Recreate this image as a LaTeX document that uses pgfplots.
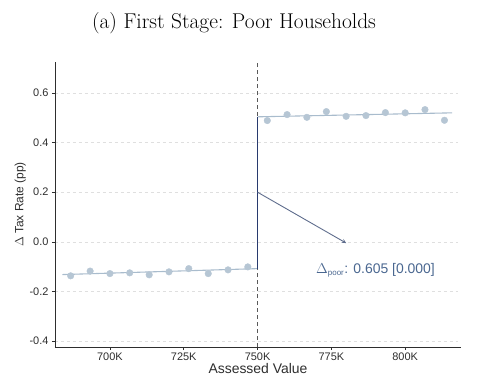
\documentclass[border=0pt]{standalone}
\usepackage{fontspec}
\usepackage{pgfplots}
\pgfplotsset{compat=1.18}
\newfontfamily\arial{Liberation Sans}
\definecolor{pts}{HTML}{B6C6D4}
\definecolor{fitc}{HTML}{A9BCCD}
\definecolor{navy}{HTML}{283A6E}
\definecolor{arrowc}{HTML}{5E6C8C}
\definecolor{annc}{HTML}{4A6790}
\definecolor{axc}{HTML}{2E2E2E}
\begin{document}
\begin{tikzpicture}
\useasboundingbox (0bp,0bp) rectangle (477bp,-391bp);
\node[anchor=base, font=\fontsize{21.5}{24}\selectfont] at (234bp,-28bp) {(a) First Stage: Poor Households};
\begin{axis}[
  at={(55bp,-347bp)}, anchor=south west,
  scale only axis, width=406bp, height=285bp,
  xmin=681.4, xmax=818.9, ymin=-0.424, ymax=0.725,
  axis x line*=bottom, axis y line*=left,
  axis line style={axc, line width=0.8pt, -},
  xtick={700,725,750,775,800},
  xticklabels={700K,725K,750K,775K,800K},
  ytick={-0.4,-0.2,0,0.2,0.4,0.6},
  yticklabels={-0.4,-0.2,0.0,0.2,0.4,0.6},
  tick style={axc, line width=0.6pt},
  tick align=outside, major tick length=3bp,
  ticklabel style={font=\arial\fontsize{11}{12}\selectfont, text=axc},
  xticklabel style={yshift=1bp},
  ymajorgrids, grid style={dashed, gray!25, line width=0.6pt},
  xlabel={Assessed Value},
  xlabel style={font=\arial\fontsize{14}{16}\selectfont, text=axc, yshift=4bp},
  ylabel={$\Delta$ Tax Rate (pp)},
  ylabel style={font=\arial\fontsize{12}{13}\selectfont, text=axc, yshift=-3bp},
  clip=false,
]
% cutoff dashed line
\addplot[gray!70!black, dashed, line width=0.8pt, dash pattern=on 4bp off 3bp] coordinates {(750,-0.424) (750,0.725)};
% binned means
\addplot[only marks, mark=*, mark size=3.3bp, pts, mark options={draw=pts, fill=pts}] coordinates {
(686.7,-0.137) (693.3,-0.118) (700,-0.128) (706.7,-0.125) (713.3,-0.133)
(720,-0.121) (726.7,-0.108) (733.3,-0.128) (740,-0.113) (746.7,-0.101)
(753.3,0.489) (760,0.513) (766.7,0.502) (773.3,0.525) (780,0.506)
(786.7,0.509) (793.3,0.521) (800,0.520) (806.7,0.533) (813.3,0.490)};
% fits
\addplot[fitc, line width=1.1pt] coordinates {(683.9,-0.132) (750,-0.108)};
\addplot[fitc, line width=1.1pt] coordinates {(750,0.504) (815.9,0.520)};
% jump
\addplot[navy, line width=1.6pt] coordinates {(750,-0.108) (750,0.504)};
% arrow
\addplot[arrowc, line width=0.9pt, -stealth] coordinates {(750,0.2) (780,-0.005)};
\node[anchor=base west, font=\arial\fontsize{14}{16}\selectfont, text=annc, inner sep=0pt] at (axis cs:769.8,-0.128) {$\Delta$\textsubscript{\fontsize{8}{9}\selectfont poor}: 0.605 [0.000]};
\end{axis}
\end{tikzpicture}
\end{document}
